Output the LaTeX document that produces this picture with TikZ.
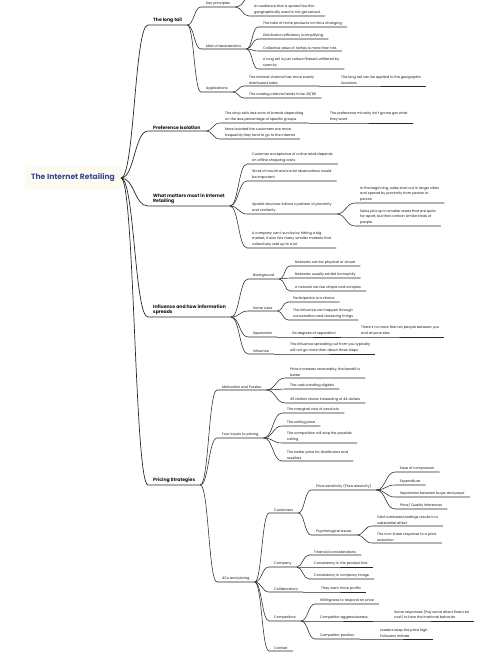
\documentclass[tikz,border=0pt]{standalone}
\usepackage{fontspec}
\setmainfont{Poppins}
\usepackage{xcolor}
\usepackage{tikz}
\usetikzlibrary{calc,positioning}
\definecolor{rootblue}{RGB}{58,70,150}
\definecolor{rootfill}{RGB}{253,251,240}
\definecolor{ink}{RGB}{20,20,20}
\definecolor{wire}{RGB}{40,40,40}

\tikzset{
  topic/.style={anchor=south west, inner xsep=5pt, inner ysep=1.6pt, align=left, text=ink},
  mainbox/.style={topic, font=\fontsize{4.6}{5.8}\selectfont\bfseries},
  subbox/.style={topic, font=\fontsize{3.45}{5.5}\selectfont},
  link/.style={draw=wire, line width=0.55pt},
  branch/.style={to path={let \p1=(\tikztostart), \p2=(\tikztotarget) in
    .. controls ({0.5*\x1+0.5*\x2},\y1) and ({0.5*\x1+0.5*\x2},\y2) .. (\tikztotarget)}}
}

\begin{document}
\begin{tikzpicture}[x=1pt, y=-1pt]
\useasboundingbox (0,0) rectangle (500,666);
\clip (0,0) rectangle (500,666);

\node[font=\fontsize{7.6}{9}\selectfont\bfseries, text=rootblue, fill=rootfill,
      anchor=east, inner xsep=6pt, inner ysep=7pt] (root) at (121,178) {The Internet Retailing};

\node[mainbox] (t1) at (148,25) {The long tail};
\node[mainbox] (t2) at (148,131) {Preference Isolation};
\node[mainbox] (t3) at (148,206) {What matters most in Internet\\Retailing};
\node[mainbox] (t4) at (148,317) {Influence and how information\\spreads};
\node[mainbox] (t5) at (148,485) {Pricing Strategies};

\node[subbox] (kp) at (201,7) {Key principles};
\coordinate (kpc) at (255,-8);
\node[subbox] (kp1) at (249,16) {An audience that is spread too thin\\geographically used to not get served};
\node[subbox] (mc) at (201,49) {Main characteristics};
\node[subbox] (mc1) at (258,27) {The ratio of niche products to hits is changing};
\node[subbox] (mc2) at (258,39) {Distribution efficiency is amplifying};
\node[subbox] (mc3) at (258,51) {Collective value of niches is more than hits};
\node[subbox] (mc4) at (258,69) {A long tail is just culture filtered unfiltered by\\scarcity};
\node[subbox] (ap) at (201,92) {Applications};
\node[subbox] (ap1) at (244,86) {The internet channel has more evenly\\distributed sales};
\node[subbox] (ap11) at (336,86) {The long tail can be applied to the geographic\\locations};
\node[subbox] (ap2) at (244,98) {The catalog channel tends to be 20/80};

\node[subbox] (pi1) at (220,123) {The shop sells less sorts of brands depending\\on the less percentage of specific groups};
\node[subbox] (pi11) at (325,123) {The preference minority isn't gonna get what\\they want};
\node[subbox] (pi2) at (220,139) {More isolated the customers are more\\frequently they tend to go to the Internet};

\node[subbox] (wm1) at (247,164) {Customer acceptance of online retail depends\\on offline shopping costs};
\node[subbox] (wm2) at (247,181) {Word of mouth and social observations would\\be important};
\node[subbox] (wm3) at (247,214) {Spatial structure follows a pattern of proximity\\and similarity};
\node[subbox] (wm31) at (355,203) {In the beginning, sales start out in larger cities\\and spread by proximity from person to\\person};
\node[subbox] (wm32) at (355,226) {Sales pick up in smaller areas that are quite\\far apart, but that contain similar kinds of\\people};
\node[subbox] (wm4) at (247,248) {A company can't survive by hitting a big\\market, it also hits many smaller markets that\\collectively add up to a lot};

\node[subbox] (bg) at (248,279) {Background};
\node[subbox] (bg1) at (290,266) {Networks can be physical or virtual};
\node[subbox] (bg2) at (290,278) {Networks usually exhibit homophily};
\node[subbox] (bg3) at (290,291) {A network can be simple and complex};
\node[subbox] (sr) at (248,311) {Some rules};
\node[subbox] (sr1) at (288,302) {Participation is a choice};
\node[subbox] (sr2) at (288,320) {The influence can happen through\\conversation and observing things};
\node[subbox] (sp) at (248,337) {Separation};
\node[subbox] (sp1) at (287,337) {Six degrees of separation};
\node[subbox] (sp11) at (356,337) {There's no more than six people between you\\and anyone else};
\node[subbox] (inf) at (248,354) {Influence};
\node[subbox] (inf1) at (285,354) {The influence spreading out from you typically\\will not go more than about three steps};

\node[subbox] (mp) at (217,390) {Motivation and Puzzles};
\node[subbox] (mp1) at (285,378) {Price increases reasonably, the benefit is\\better};
\node[subbox] (mp2) at (285,389) {The useful ending digitals};
\node[subbox] (mp3) at (285,403) {49 dollars shows insteading of 44 dollars};
\node[subbox] (fi) at (217,438) {Four inputs to pricing};
\node[subbox] (fi1) at (282,413) {The marginal cost of products};
\node[subbox] (fi2) at (282,426) {The ceiling price};
\node[subbox] (fi3) at (282,443) {The competition will stop the possible\\ceiling};
\node[subbox] (fi4) at (282,461) {The better price for distributors and\\resellers};
\node[subbox] (cs) at (217,582) {4Cs and pricing};
\node[subbox] (cu) at (269,513) {Customers};
\node[subbox] (ps) at (311,490) {Price sensitivity (Price elasticity)};
\node[subbox] (ps1) at (395,472) {Ease of comparison};
\node[subbox] (ps2) at (395,485) {Expenditure};
\node[subbox] (ps3) at (395,497) {Separation between buyer and payer};
\node[subbox] (ps4) at (395,509) {Price/ Quality inferences};
\node[subbox] (pu) at (311,535) {Psychological issues};
\node[subbox] (pu1) at (372,526) {Odd numbered endings results in a\\substantial effect};
\node[subbox] (pu2) at (372,543) {The non-linear response to a price\\reduction};
\node[subbox] (co) at (269,567) {Company};
\node[subbox] (co1) at (309,555) {Financial considerations};
\node[subbox] (co2) at (309,567) {Consistency in the product line};
\node[subbox] (co3) at (309,579) {Consistency in company image};
\node[subbox] (cl) at (269,592) {Collaborators};
\node[subbox] (cl1) at (316,592) {They want more profits};
\node[subbox] (cm) at (269,621) {Competitors};
\node[subbox] (cm1) at (315,604) {Willingness to respond on price};
\node[subbox] (cm2) at (315,621) {Competitor aggressiveness};
\node[subbox] (cm21) at (389,621) {Some responses (Pay some direct financial\\cost) to face the irrational behavior};
\node[subbox] (cm3) at (315,639) {Competitor position};
\node[subbox] (cm31) at (375,639) {Leaders keep the price high\\Followers imitate};
\node[subbox] (cx) at (269,651) {Context};

\foreach \c in {t1,t2,t3,t4,t5}
  \draw[link, line width=0.7pt] (root.east) to[branch] (\c.south west) -- (\c.south east);
\draw[link] (kp.south east) to[branch] (kpc) -- ++(80,0);
\foreach \p/\c in {t1/kp, kp/kp1, t1/mc, mc/mc1, mc/mc2, mc/mc3, mc/mc4, t1/ap, ap/ap1, ap1/ap11, ap/ap2,
    t2/pi1, pi1/pi11, t2/pi2, t3/wm1, t3/wm2, t3/wm3, wm3/wm31, wm3/wm32, t3/wm4,
    t4/bg, bg/bg1, bg/bg2, bg/bg3, t4/sr, sr/sr1, sr/sr2, t4/sp, sp/sp1, sp1/sp11, t4/inf, inf/inf1,
    t5/mp, mp/mp1, mp/mp2, mp/mp3, t5/fi, fi/fi1, fi/fi2, fi/fi3, fi/fi4, t5/cs,
    cs/cu, cu/ps, ps/ps1, ps/ps2, ps/ps3, ps/ps4, cu/pu, pu/pu1, pu/pu2,
    cs/co, co/co1, co/co2, co/co3, cs/cl, cl/cl1, cs/cm, cm/cm1, cm/cm2, cm2/cm21, cm/cm3, cm3/cm31, cs/cx}
  \draw[link] (\p.south east) to[branch] (\c.south west) -- (\c.south east);
\end{tikzpicture}
\end{document}
